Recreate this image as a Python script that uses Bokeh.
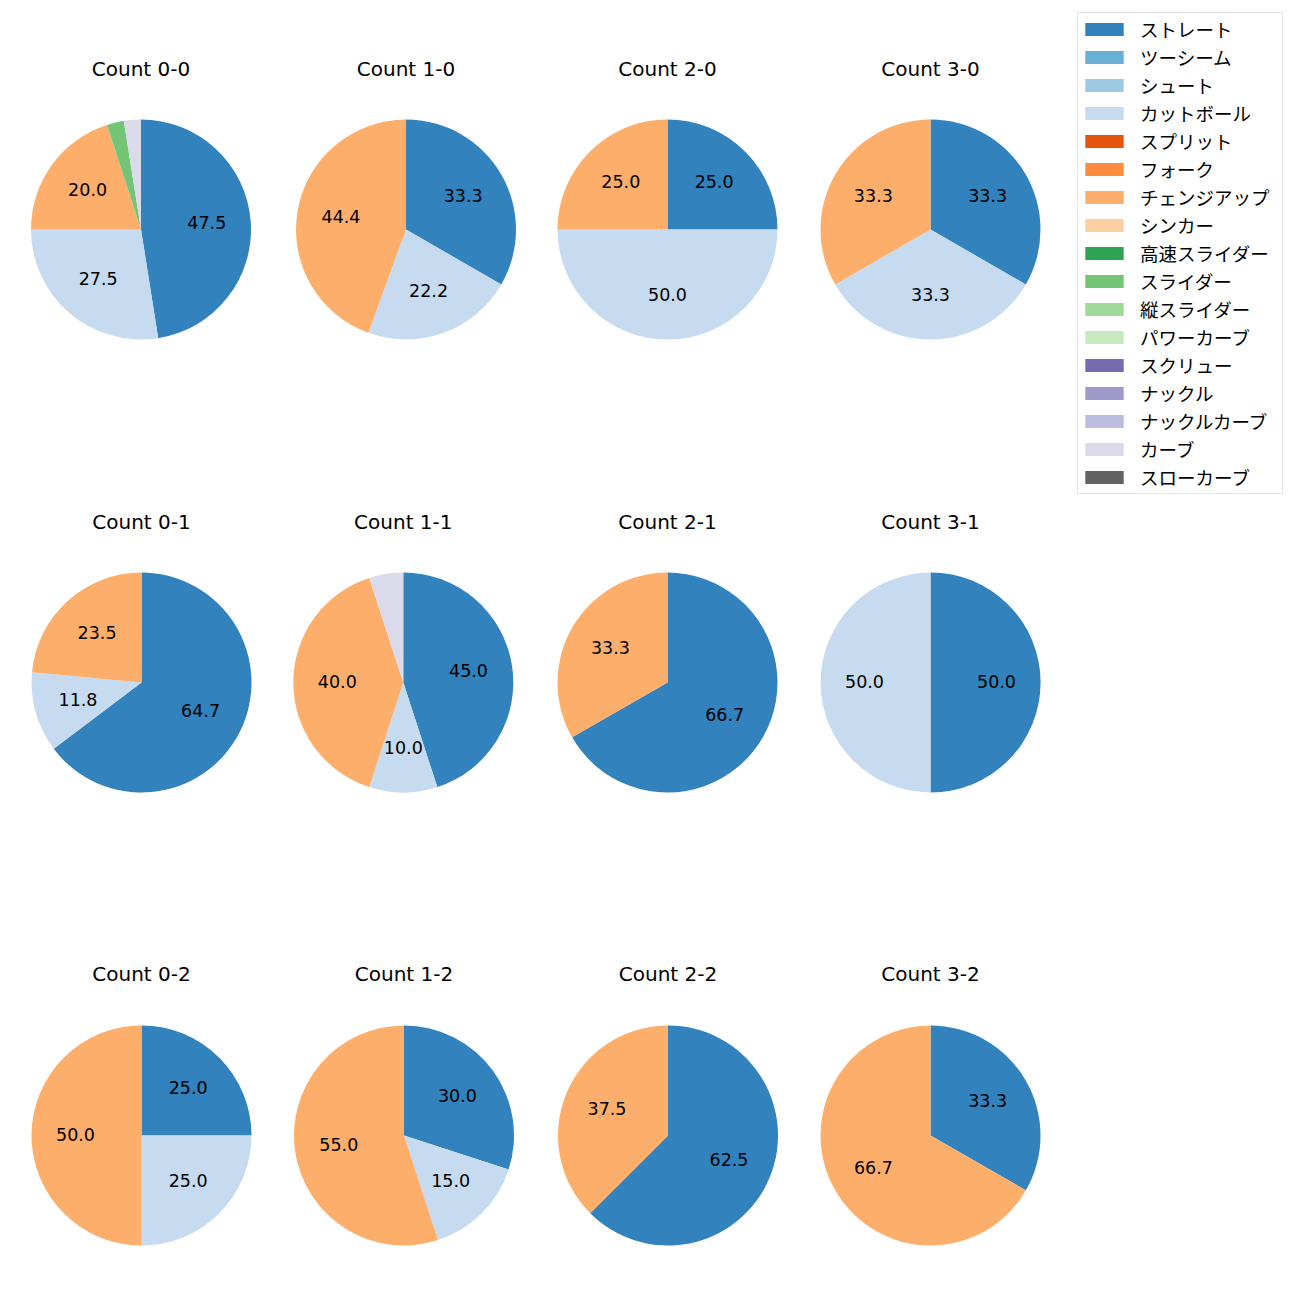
import math
from bokeh.plotting import figure
from bokeh.models import Range1d, Legend, LegendItem, ColumnDataSource
from bokeh.embed import file_html
from bokeh.resources import INLINE
from bokeh.core.properties import value

CJK_FONT = "Noto Sans CJK JP"
LATIN_FONT = "DejaVu Sans"

pitch_types = ["ストレート", "ツーシーム", "シュート", "カットボール", "スプリット", "フォーク",
               "チェンジアップ", "シンカー", "高速スライダー", "スライダー", "縦スライダー",
               "パワーカーブ", "スクリュー", "ナックル", "ナックルカーブ", "カーブ", "スローカーブ"]
pitch_colors = ["#3182bd", "#6baed6", "#9ecae1", "#c6dbef", "#e6550d", "#fd8d3c",
                "#fdae6b", "#fdd0a2", "#31a354", "#74c476", "#a1d99b", "#c7e9c0",
                "#756bb1", "#9e9ac8", "#bcbddc", "#dadaeb", "#636363"]

counts = ["0-0", "1-0", "2-0", "3-0",
          "0-1", "1-1", "2-1", "3-1",
          "0-2", "1-2", "2-2", "3-2"]

# share (%) of each pitch type per count, in the order of `counts`
straight = [47.5, 33.3, 25.0, 33.3, 64.7, 45.0, 66.7, 50.0, 25.0, 30.0, 62.5, 33.3]
cutter   = [27.5, 22.2, 50.0, 33.3, 11.8, 10.0, 0.0, 50.0, 25.0, 15.0, 0.0, 0.0]
changeup = [20.0, 44.4, 25.0, 33.3, 23.5, 40.0, 33.3, 0.0, 50.0, 55.0, 37.5, 66.7]
slider   = [2.5, 0, 0, 0, 0, 0, 0, 0, 0, 0, 0, 0]
curve    = [2.5, 0, 0, 0, 0, 5.0, 0, 0, 0, 0, 0, 0]

series = {"ストレート": straight, "カットボール": cutter, "チェンジアップ": changeup,
          "スライダー": slider, "カーブ": curve}

# layout (screen pixels)
col_x = [[140.5, 405.5, 667.0, 930.0],
         [141.0, 402.8, 667.0, 930.0],
         [141.0, 403.5, 667.5, 930.0]]
row_y = [229.0, 682.0, 1135.0]
title_y = [68.5, 521.5, 973.5]
R = 110.0
W = H = 1284

def Y(py):
    return 1300.0 - py

p = figure(width=W, height=H, output_backend="svg", toolbar_location=None,
           x_range=Range1d(0, 1284), y_range=Range1d(16, 1300), min_border=0)
p.axis.visible = False
p.grid.visible = False
p.outline_line_color = None
p.background_fill_color = "white"

wedge_data = {t: dict(x=[], y=[], start=[], end=[]) for t in pitch_types}
lab = dict(x=[], y=[], text=[])
tit = dict(x=[], y=[], text=[])
for i, c in enumerate(counts):
    r, col = divmod(i, 4)
    cx, cy = col_x[r][col], Y(row_y[r])
    vals = [(t, series[t][i]) for t in pitch_types if t in series and series[t][i] > 0]
    total = sum(v for _, v in vals)
    cum = 0.0
    for t, v in vals:
        a0 = math.pi / 2 - 2 * math.pi * cum / total
        cum += v
        a1 = math.pi / 2 - 2 * math.pi * cum / total
        d = wedge_data[t]
        d["x"].append(cx); d["y"].append(cy); d["start"].append(a1); d["end"].append(a0)
        if v > 5.0:
            mid = (a0 + a1) / 2
            lab["x"].append(cx + 0.6 * R * math.cos(mid))
            lab["y"].append(cy + 0.6 * R * math.sin(mid))
            lab["text"].append(f"{v:.1f}")
    tit["x"].append(cx)
    tit["y"].append(Y(title_y[r]))
    tit["text"].append(f"Count {c}")

items = []
for t, color in zip(pitch_types, pitch_colors):
    d = wedge_data[t]
    if not d["x"]:
        # legend-only entry: a zero-size wedge placed outside the view
        d = dict(x=[-1000.0], y=[-1000.0], start=[0.0], end=[0.0])
    rr = p.wedge(x="x", y="y", radius=R, start_angle="start", end_angle="end",
                 fill_color=color, line_color=None, source=ColumnDataSource(d))
    items.append(LegendItem(label=t, renderers=[rr]))

p.text(x="x", y="y", text="text", source=ColumnDataSource(lab),
       text_font=value(LATIN_FONT), text_font_size="17.5px", text_color="black",
       text_align="center", text_baseline="middle", y_offset=-1.5)
p.text(x="x", y="y", text="text", source=ColumnDataSource(tit),
       text_font=value(LATIN_FONT), text_font_size="20px", text_color="black",
       text_align="center", text_baseline="middle")

legend = Legend(items=items, location=(1077, 1284 - 14 - 480), margin=0, padding=2,
                spacing=0, label_height=28, label_width=140, glyph_height=16, glyph_width=48,
                label_standoff=12, label_text_font=CJK_FONT, label_text_font_size="18.5px",
                label_text_color="black",
                border_line_color="#cccccc", border_line_width=1,
                background_fill_color="white", background_fill_alpha=0.8)
p.add_layout(legend, "center")

open("out.html", "w").write(file_html(p, INLINE))
